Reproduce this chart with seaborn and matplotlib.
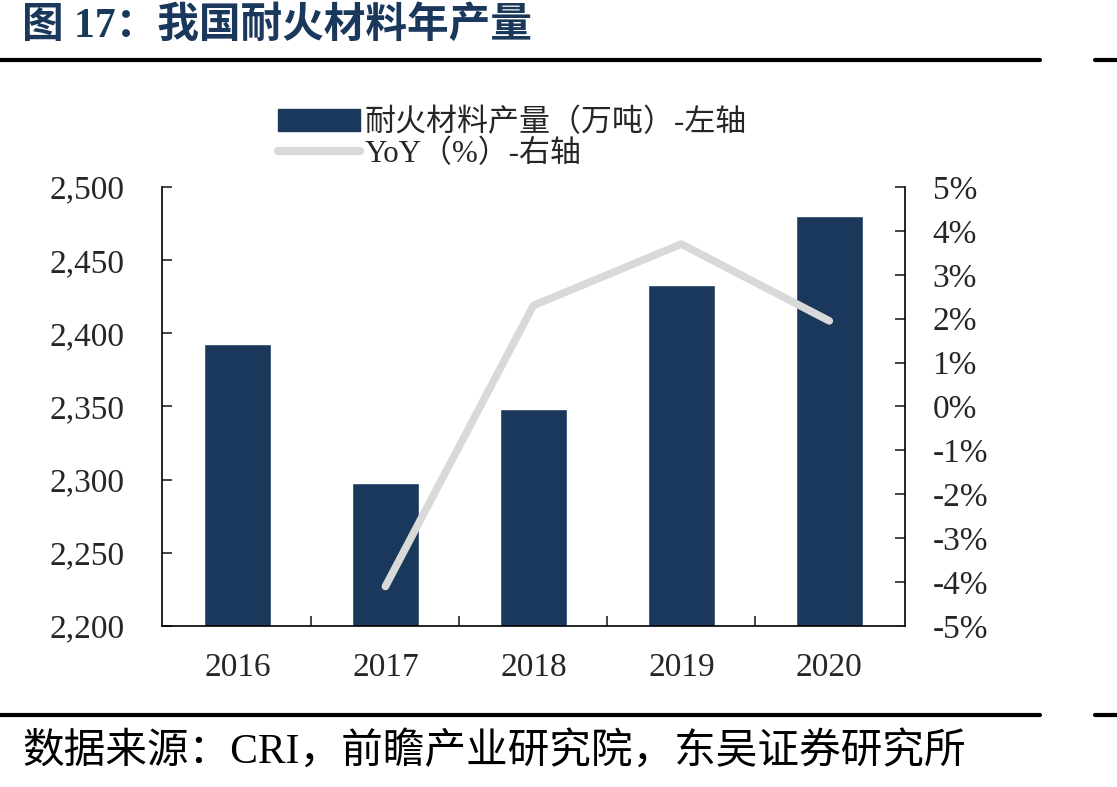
import matplotlib
matplotlib.use("Agg")
import matplotlib.pyplot as plt
import seaborn as sns
import pandas as pd
import numpy as np
from matplotlib.patches import Patch
from matplotlib.lines import Line2D
from matplotlib.ticker import FuncFormatter, MultipleLocator

# データ
years = ["2016", "2017", "2018", "2019", "2020"]
output = [2393, 2298, 2348, 2433, 2480]          # 耐火材料产量（万吨）
yoy_years = ["2017", "2018", "2019", "2020"]
yoy = [-4.1, 2.3, 3.7, 1.95]                      # YoY（%）

navy = "#1a385c"
grey = "#d9d9d9"

sns.set_theme(style="white")
plt.rcParams["font.family"] = ["Liberation Serif", "Noto Sans CJK SC"]
plt.rcParams["axes.unicode_minus"] = False

fig = plt.figure(figsize=(11.17, 7.87), dpi=100)
ax = fig.add_axes([0.145, 0.2046, 0.665, 0.5578])

df = pd.DataFrame({"year": years, "output": output})
sns.barplot(data=df, x="year", y="output", color=navy, width=0.45,
            saturation=1, ax=ax)
ax.set_ylim(2200, 2500)
ax.set_xlim(-0.51, 4.51)
ax.yaxis.set_major_locator(MultipleLocator(50))
ax.yaxis.set_major_formatter(FuncFormatter(lambda v, p: f"{v:,.0f}"))
ax.set_xlabel("")
ax.set_ylabel("")

ax2 = ax.twinx()
ax2.set_position(ax.get_position())
df2 = pd.DataFrame({"year": yoy_years, "yoy": yoy})
sns.lineplot(data=df2, x="year", y="yoy", color=grey, linewidth=5.5,
             ax=ax2, solid_capstyle="round", legend=False)
ax2.set_ylim(-5, 5)
ax2.yaxis.set_major_locator(MultipleLocator(1))
ax2.yaxis.set_major_formatter(FuncFormatter(lambda v, p: f"{v:.0f}%"))
ax2.set_ylabel("")
ax2.set_xlim(-0.51, 4.51)

for a in (ax, ax2):
    a.spines["top"].set_visible(False)
    for s in a.spines.values():
        s.set_color("black")
        s.set_linewidth(1.2)
ax.spines["right"].set_visible(False)
ax2.spines["left"].set_visible(False)
ax2.spines["bottom"].set_visible(False)

# 目盛り（内向き）
ax.tick_params(axis="y", direction="in", length=7, width=1.2, labelsize=24,
               pad=27, left=True)
ax2.tick_params(axis="y", direction="in", length=7, width=1.2, labelsize=24,
                pad=20, right=True)
ax.set_xticks(range(len(years)))
ax.set_xticklabels(years)
ax.tick_params(axis="x", length=0, labelsize=24, pad=19)
ax.set_xticks(np.arange(0.5, len(years) - 1, 1), minor=True)
ax.tick_params(axis="x", which="minor", direction="in", length=7, width=1.2,
               bottom=True)

# 凡例
handles = [Patch(facecolor=navy, edgecolor=navy),
           Line2D([0], [0], color=grey, linewidth=6, solid_capstyle="round")]
labels = ["耐火材料产量（万吨）-左轴", "YoY（%）-右轴"]
fig.legend(handles, labels, loc="upper left", bbox_to_anchor=(0.238, 0.878),
           frameon=False, fontsize=22.3, handlelength=2.65, handleheight=0.75,
           handletextpad=0.15, labelspacing=0.05, borderaxespad=0)

# タイトル・出所
fig.text(0.02, 0.967, "图 17：我国耐火材料年产量", fontsize=30,
         fontweight="bold", color=navy, ha="left", va="center")
fig.text(0.02, 0.045, "数据来源：CRI，前瞻产业研究院，东吴证券研究所",
         fontsize=30, color="black", ha="left", va="center")

# 区切り線
for y in (1 - 60 / 787, 1 - 715 / 787):
    fig.add_artist(Line2D([0, 1040 / 1117], [y, y], color="black",
                          linewidth=3, transform=fig.transFigure))
    fig.add_artist(Line2D([1095 / 1117, 1], [y, y], color="black",
                          linewidth=3, transform=fig.transFigure))

plt.savefig("out.png", dpi=100)
